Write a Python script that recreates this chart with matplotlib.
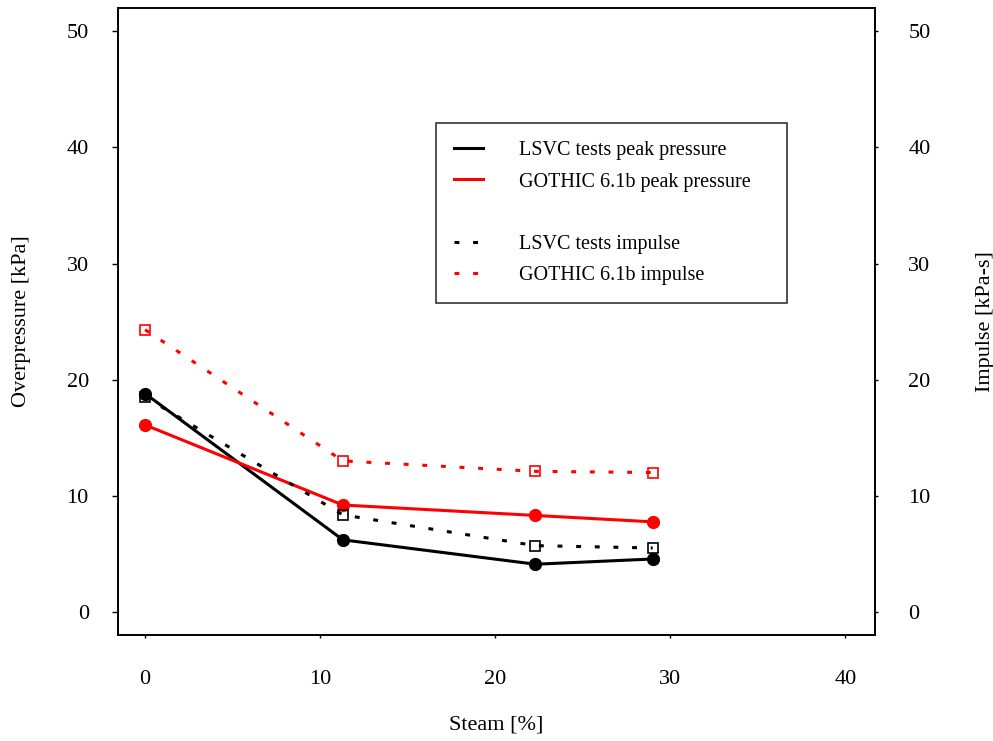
import numpy as np
import matplotlib
matplotlib.use('Agg')
import matplotlib.pyplot as plt
from matplotlib.lines import Line2D

plt.rcParams['font.family'] = ['Liberation Serif', 'DejaVu Serif']

# steam fraction [%]
steam = [0.0, 11.3, 22.3, 29.0]

# peak overpressure [kPa]
lsvc_peak = [18.8, 6.2, 4.1, 4.55]
gothic_peak = [16.1, 9.2, 8.3, 7.75]

# impulse [kPa-s]
lsvc_imp = [18.5, 8.35, 5.7, 5.5]
gothic_imp = [24.3, 13.0, 12.1, 12.0]

xticks = [0, 10, 20, 30, 40]
yticks = [0, 10, 20, 30, 40, 50]

red = '#ff0000'
dots = (0, (1.6, 4.5))

fig = plt.figure(figsize=(9.93, 7.41), dpi=100)
ax = fig.add_axes([0.1188, 0.143, 0.7624, 0.846])
ax2 = ax.twinx()

ax.plot(steam, lsvc_peak, color='black', lw=2.2, marker='o', ms=8.5)
ax.plot(steam, gothic_peak, color=red, lw=2.2, marker='o', ms=8.5)
ax2.plot(steam, lsvc_imp, color='black', lw=2.2, ls=dots, marker='s', ms=7,
         mfc='none', mec='black', mew=1.2)
ax2.plot(steam, gothic_imp, color=red, lw=2.2, ls=dots, marker='s', ms=7,
         mfc='none', mec=red, mew=1.2)

for a in (ax, ax2):
    a.set_xlim(-1.55, 41.7)
    a.set_ylim(-2, 52)
    a.set_yticks(yticks)
    for s in a.spines.values():
        s.set_linewidth(1.2)

ax.set_xticks(xticks)
ax.tick_params(axis='x', direction='out', length=2.5, width=1, pad=23, labelsize=16)
ax.tick_params(axis='y', direction='out', length=4, width=1, pad=17, labelsize=16)
ax2.tick_params(axis='y', direction='out', length=2, width=1, pad=22, labelsize=16)

ax.set_xlabel('Steam [%]', fontsize=16)
ax.set_ylabel('Overpressure [kPa]', fontsize=16)
ax2.set_ylabel('Impulse [kPa-s]', fontsize=16)
ax.xaxis.set_label_coords(0.5, -0.128)
ax.yaxis.set_label_coords(-0.115, 0.5)
ax2.yaxis.set_label_coords(1.133, 0.5)

handles = [
    Line2D([], [], color='black', lw=2.2),
    Line2D([], [], color=red, lw=2.2),
    Line2D([], [], color='none'),
    Line2D([], [], color='black', lw=2.2, ls=dots),
    Line2D([], [], color=red, lw=2.2, ls=dots),
]
labels = ['LSVC tests peak pressure', 'GOTHIC 6.1b peak pressure', '',
          'LSVC tests impulse', 'GOTHIC 6.1b impulse']
leg = ax2.legend(handles, labels, loc='upper left',
                 bbox_to_anchor=(0.42, 0.8166, 0.464, 0.0), mode='expand',
                 borderaxespad=0, fontsize=14.5, frameon=True, fancybox=False,
                 edgecolor='black', handlelength=1.45, handletextpad=1.75,
                 borderpad=0.9, labelspacing=0.6)
leg.get_frame().set_linewidth(1.2)

fig.savefig('out.png', dpi=100)
